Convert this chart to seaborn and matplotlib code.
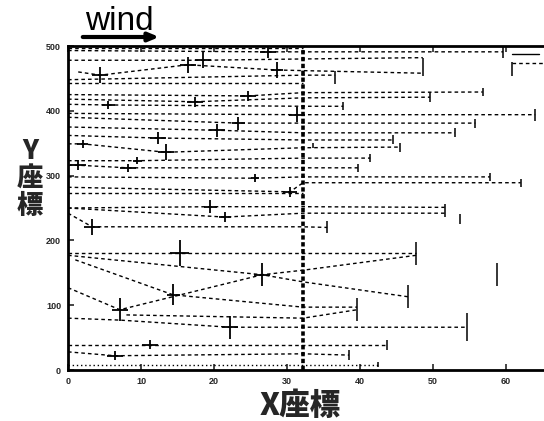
import numpy as np
import pandas as pd
import seaborn as sns
import matplotlib
matplotlib.use("Agg")
import matplotlib.pyplot as plt

# ---------------- data ----------------
# trajectories: x and y of each path (data units)
path_x = [
    [0, 32.2], [0, 27.4, 32.2, 59.6],
    [0, 18.5, 32.2, 48.6],
    [1.4, 4.4, 16.4, 28.6, 32.2, 48.6],
    [0, 32.2, 36.6], [0, 32.2],
    [0, 24.7, 32.2, 56.8], [0, 17.4, 32.2, 49.6], [0, 5.5, 32.2, 37.7],
    [0, 31.4, 32.2, 64.0], [0, 23.3, 32.2, 55.8], [0, 20.4, 32.2, 53.0],
    [0, 12.3, 32.2, 44.5], [0, 2.0, 13.4, 32.2, 45.5],
    [0, 9.5, 32.2, 41.4], [0, 1.4, 8.2, 32.2, 39.7],
    [0, 25.6, 32.2, 57.8], [0, 30.4, 32.2, 62.0], [0, 32.2],
    [0, 19.5, 32.2, 51.6], [0, 21.5, 32.2, 51.6], [0, 3.3, 32.2, 35.5],
    [0, 15.3, 32.2, 47.7], [0, 26.6, 32.2, 47.7],
    [1, 14.4, 32.2, 39.6], [0, 7.1, 26.6, 32.2, 46.6],
    [0, 7.1, 22.2, 32.2, 54.7], [8, 32.2, 39.6],
    [0, 11.2, 32.2, 43.7], [0, 6.4, 32.2, 38.5], [0, 32.2, 42.5],
    [60.8, 65.5], [60.8, 64.5],
]
path_y = [
    [497, 497], [493, 491, 491, 491],
    [478, 478, 480, 482],
    [460, 455, 471, 463, 462, 458],
    [448, 455, 455], [443, 443],
    [425, 423, 428, 429], [418, 414, 420, 421], [410, 409, 407, 407],
    [396, 394, 394, 394], [390, 381, 381, 381], [375, 370, 366, 366],
    [362, 358, 355, 355], [349, 349, 336, 343, 344],
    [323, 323, 327, 327], [316, 316, 312, 312, 312],
    [298, 296, 298, 298], [282, 275, 289, 289], [273, 273],
    [250, 252, 252, 251], [250, 236, 242, 242], [242, 221, 221, 220],
    [181, 181, 181, 181], [177, 147, 154, 177],
    [170, 116, 97, 97], [127, 93, 147, 136, 113],
    [80, 77, 66, 66, 66], [85, 80, 93],
    [39, 39, 39, 39], [28, 22, 25, 23], [8, 8, 8],
    [474, 474], [487, 487],
]
path_dash = ["d", "d", "d", "d", "d", "d", "d", "d", "d", "d", "d", "d",
             "d", "d", "d", "d", "d", "d", "d", "d", "d", "d", "d", "d",
             "d", "d", "d", "d", "d", "d", "o", "d", "s"]

# crosses (position with error bars)
cross_x = [27.4, 18.5, 4.4, 16.4, 28.6, 24.7, 17.4, 5.5, 31.4, 23.3, 20.4,
           12.3, 2.0, 13.4, 9.5, 1.4, 8.2, 25.6, 30.4, 19.5, 21.5, 3.3,
           15.3, 26.6, 14.4, 7.1, 22.2, 11.2, 6.4]
cross_y = [491, 478, 455, 471, 463, 423, 414, 409, 394, 381, 370,
           358, 349, 336, 323, 316, 312, 296, 275, 252, 236, 221,
           181, 147, 116, 93, 66, 39, 22]
cross_xerr = [1.1, 1.1, 1.1, 1.1, 0.8, 1.1, 1.1, 0.9, 1.1, 0.9, 1.1,
              1.1, 0.8, 1.1, 0.6, 1.1, 1.1, 0.6, 0.9, 0.9, 0.8, 1.1,
              1.3, 1.1, 0.9, 1.1, 1.1, 1.1, 1.1]
cross_yerr = [10, 12, 12, 12, 12, 8, 8, 6, 12, 10, 10,
              10, 6, 12, 5, 8, 6, 6, 8, 10, 8, 12,
              20, 18, 16, 18, 18, 7, 7]

# end bars of the trajectories right of the vertical line
end_x = [59.6, 48.6, 36.6, 56.8, 49.6, 37.7, 64.0, 55.8, 53.0, 44.5, 45.5,
         33.5, 41.4, 39.7, 57.8, 62.0, 51.6, 53.7, 35.5, 47.7, 39.6, 46.6,
         54.7, 43.7, 38.5, 42.5, 58.8, 60.8]
end_y = [491, 468, 452, 429, 421, 407, 394, 381, 366, 355, 344,
         347, 327, 312, 298, 289, 246, 233, 221, 180, 93, 113,
         66, 39, 23, 8, 147, 465]
end_h = [9, 14, 10, 6, 8, 6, 9, 7, 7, 7, 7,
         4, 6, 6, 6, 6, 10, 8, 9, 18, 18, 18,
         22, 8, 8, 4, 18, 11]

x_ticks = [0, 10, 20, 30, 40, 50, 60]
y_ticks = [0, 100, 200, 300, 400, 500]
front_x = 32.2

# ---------------- figure ----------------
sns.set_style("ticks")
plt.rcParams["font.family"] = ["Liberation Sans", "Noto Sans CJK JP", "DejaVu Sans"]

fig = plt.figure(figsize=(5.44, 4.21), dpi=100)
ax = fig.add_axes([68 / 544, 1 - 370 / 421, (544 - 68) / 544, (370 - 46) / 421])

rows = []
for i, (xs, ys) in enumerate(zip(path_x, path_y)):
    for x, y in zip(xs, ys):
        rows.append({"pid": i, "x": x, "y": y, "kind": path_dash[i]})
df = pd.DataFrame(rows)

styles = {"d": (0, (2.6, 2.2)), "o": (0, (1.0, 2.0)), "s": "-"}
for kind, sub in df.groupby("kind"):
    sns.lineplot(data=sub, x="x", y="y", units="pid", estimator=None, sort=False,
                 color="black", lw=1.0, linestyle=styles[kind], ax=ax, legend=False)

# thick dotted front line
fl = pd.DataFrame({"x": [front_x, front_x], "y": [0, 500]})
sns.lineplot(data=fl, x="x", y="y", color="black", lw=2.6,
             linestyle=(0, (1.2, 0.7)), ax=ax, legend=False, estimator=None, sort=False)

ax.errorbar(cross_x, cross_y, xerr=cross_xerr, yerr=cross_yerr, fmt="none",
            ecolor="black", elinewidth=1.3, capsize=0)
ey = np.array(end_y)
eh = np.array(end_h)
ax.vlines(end_x, ey - eh, ey + eh, color="black", lw=1.1)

ax.set_xlim(0, 65.2)
ax.set_ylim(0, 500)
ax.set_xticks(x_ticks)
ax.set_yticks(y_ticks)
ax.set_xticklabels([str(v) for v in x_ticks], fontsize=6.5, fontweight="bold")
ax.set_yticklabels([str(v) for v in y_ticks], fontsize=6.5, fontweight="bold")
ax.tick_params(direction="in", length=4, width=1.2, top=True, right=False, pad=5)
ax.set_xlabel("")
ax.set_ylabel("")
for s in ["left", "bottom", "top"]:
    ax.spines[s].set_linewidth(2.0)
    ax.spines[s].set_color("black")
ax.spines["right"].set_visible(False)

fig.text(300 / 544, 1 - 405 / 421, "X座標", ha="center", va="center",
         fontsize=22, fontweight="heavy", family=["Noto Sans CJK JP", "DejaVu Sans"])
fig.text(30 / 544, 1 - 178 / 421, "Y\n座\n標", ha="center", va="center",
         fontsize=19, fontweight="heavy", linespacing=0.95,
         family=["Noto Sans CJK JP", "DejaVu Sans"])
fig.text(119 / 544, 1 - 22 / 421, "wind", ha="center", va="center", fontsize=24,
         color="black", family=["Liberation Sans", "DejaVu Sans"])
ax.annotate("", xy=(162, 421 - 37), xytext=(80, 421 - 37),
            xycoords="figure pixels", textcoords="figure pixels",
            arrowprops=dict(arrowstyle="-|>,head_length=0.6,head_width=0.25",
                            lw=3, color="black"))

fig.savefig("out.png", dpi=100)
